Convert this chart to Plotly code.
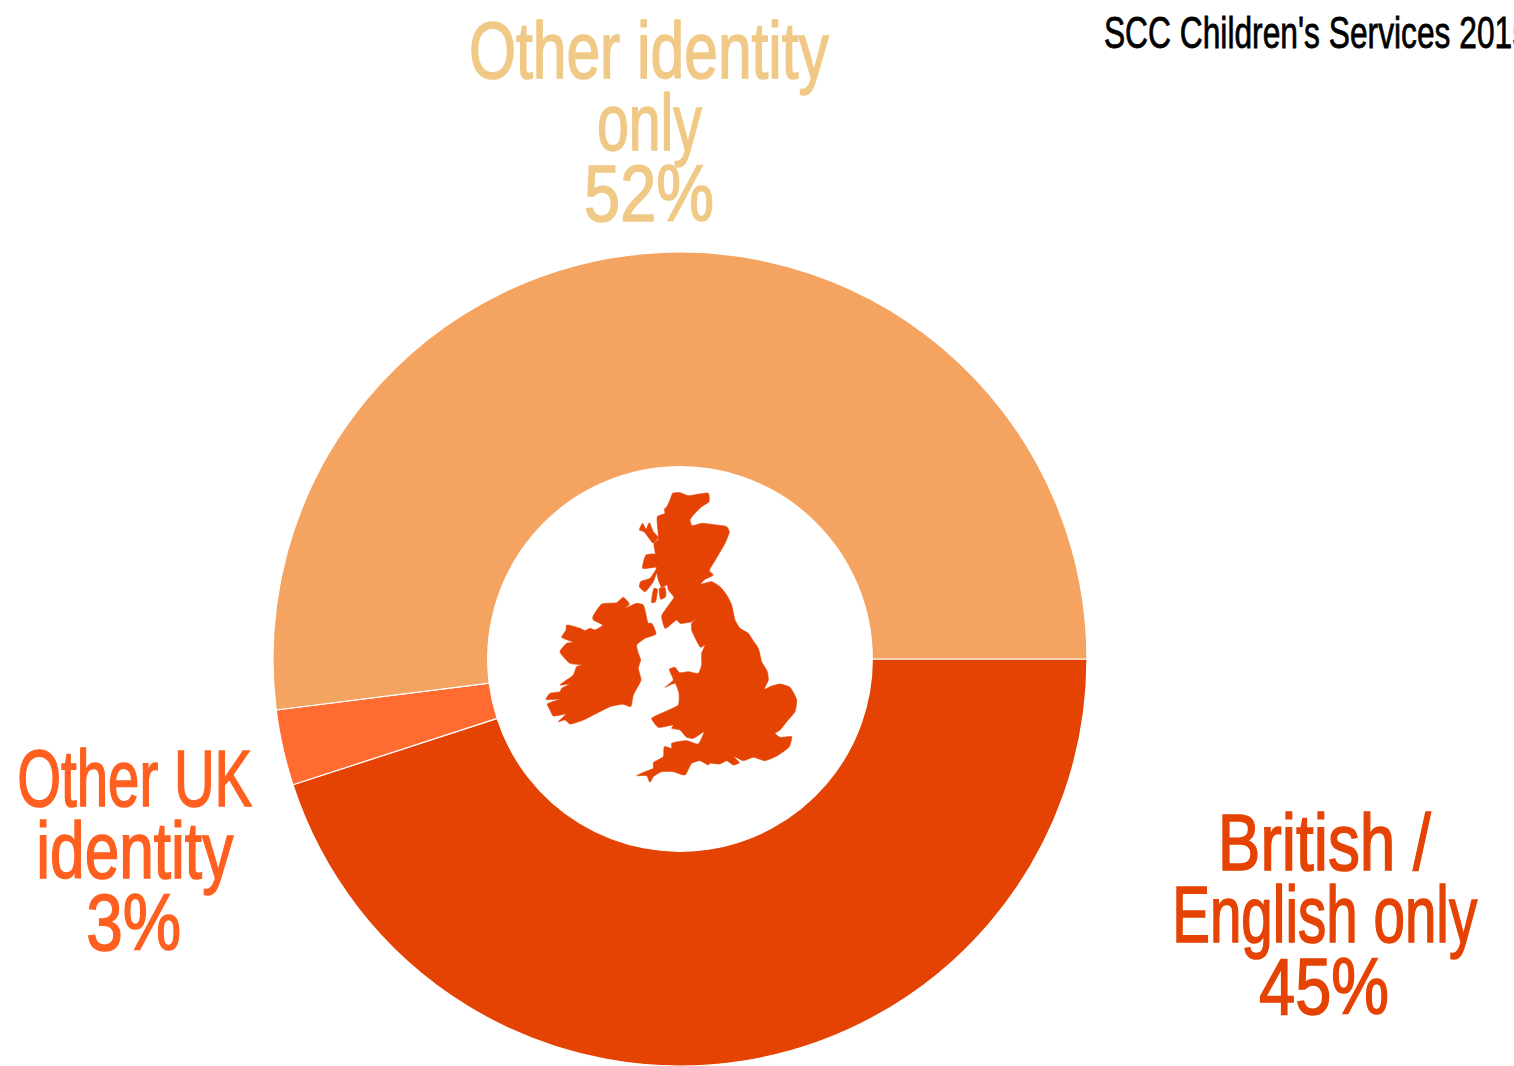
import json
import plotly.graph_objects as go

# Chart data
categories = ["British / English only", "Other UK identity", "Other identity only"]
percent_values = [45, 3, 52]
slice_colors = ["#E54304", "#FF6B30", "#F4A460"]
label_colors = ["#E54304", "#FF5F1F", "#F0C987"]
label_lines = [["British /", "English only", "45%"], ["Other UK", "identity", "3%"], ["Other identity", "only", "52%"]]
label_centres = [(1324, [842, 914, 986]), (134, [778, 850, 922]), (649, [50, 122, 193])]
label_widths = [[213, 305, 130], [235, 197, 95], [360, 105, 130]]
chart_note = "SCC Children's Services 2015"
note_width = 426
FONT = "'Liberation Sans', sans-serif"

# Decorative map icon outlines, traced in (page px) from zoomed crops: (origin, points *3)
gb_north = (630, 480, [(128,40),(150,38),(175,47),(235,40),(237,65),(215,80),(190,105),(180,120),(186,137),(215,130),(260,135),(290,140),(298,155),(285,190),(265,225),(250,250),(238,272),(250,285),(225,298),(212,312),(245,305),(270,320),(290,345),(305,375),(315,420),(330,445),(355,460),(368,480)])
gb_south = (630, 630, [(385,55),(395,95),(412,125),(415,150),(403,178),(420,170),(450,162),(480,172),(500,210),(495,245),(470,275),(450,300),(435,310),(450,322),(485,320),(478,350),(440,378),(405,392),(370,382),(340,392),(310,378),(328,398),(310,405),(290,392),(270,402),(240,400),(235,405),(210,392),(185,400),(165,435),(130,425),(95,425),(70,440),(60,457),(50,437),(20,437),(45,425),(70,415),(70,398),(100,380),(103,350),(125,355),(125,340),(170,332),(205,342),(222,305),(190,325),(170,322),(150,300),(125,295),(130,285),(85,292),(65,265),(105,245),(145,225),(147,190),(135,160),(105,172),(130,150),(118,118),(135,112),(148,128),(175,125),(205,130),(215,105),(215,70),(225,45),(212,52),(185,0)])
gb_west = (630, 480, [(185,430),(205,410),(185,425),(150,430),(140,420),(115,440),(105,445),(95,408),(120,370),(132,352),(115,330),(112,315),(95,322),(85,300),(80,280),(70,305),(45,335),(28,320),(32,305),(60,295),(80,262),(38,265),(48,225),(75,222),(95,235),(85,245),(85,255),(72,192),(85,178),(82,110),(105,100),(103,88),(112,78),(122,55)])
skye = (630, 480, [(28,150),(38,130),(48,148),(58,128),(70,155),(85,172),(70,190),(50,165),(42,155)])
islay = (630, 480, [(65,368),(72,325),(82,328),(76,366)])
jura = (630, 480, [(88,325),(105,323),(107,350),(92,358)])
ire_south = (530, 610, [(365,40),(378,72),(345,85),(320,105),(325,130),(332,150),(325,175),(333,210),(310,255),(302,290),(280,283),(240,290),(200,310),(160,330),(120,342),(105,330),(85,335),(108,312),(70,318),(60,300),(52,282),(90,268),(48,268),(60,250),(90,245),(95,235),(120,222),(90,225),(130,195),(140,170),(155,165),(120,160),(90,125),(110,100),(130,97),(95,82),(108,60),(110,45),(150,55),(165,62),(180,55),(195,60),(218,45),(190,30),(188,22)])
ire_north = (530, 480, [(215,372),(260,368),(280,352),(298,372),(285,385),(320,370),(340,375),(355,430)])

def conv(*parts):
    xs, ys = [], []
    for ox, oy, pts in parts:
        for a, b in pts:
            xs.append(ox + a / 3)
            ys.append(oy + b / 3)
    return xs, ys

map_polys = [conv(gb_north, gb_south, gb_west), conv(skye), conv(islay), conv(jura), conv(ire_south, ire_north)]

W, H = 1514, 1066
cx, cy, R = 680, 659, 407
fig = go.Figure()
fig.add_trace(go.Pie(
    labels=categories, values=percent_values, sort=False, direction="clockwise", rotation=90,
    hole=192.3 / 407, textinfo="none", showlegend=False,
    marker=dict(colors=slice_colors, line=dict(color="white", width=1.2)),
    domain=dict(x=[(cx - R) / W, (cx + R) / W], y=[1 - (cy + R) / H, 1 - (cy - R) / H]),
))
for xs, ys in map_polys:
    fig.add_trace(go.Scatter(x=xs + xs[:1], y=ys + ys[:1], mode="lines", fill="toself",
                             fillcolor="#E54304",
                             line=dict(color="#E54304", width=0.6, shape="spline", smoothing=0.5),
                             showlegend=False, hoverinfo="skip"))

annotations = []
text_lengths = []
stroke_widths = []
for lines, (x, ys), col, widths in zip(label_lines, label_centres, label_colors, label_widths):
    for line, y, w in zip(lines, ys, widths):
        annotations.append(dict(x=x, y=y, xref="x", yref="y", text=line, showarrow=False,
                                xanchor="center", yanchor="middle",
                                font=dict(family=FONT, size=80, color=col)))
        text_lengths.append(w)
        stroke_widths.append(1.6)
annotations.append(dict(x=1104 + note_width / 2, y=32, xref="x", yref="y", text=chart_note, showarrow=False,
                        xanchor="center", yanchor="middle",
                        font=dict(family=FONT, size=45, color="black")))
text_lengths.append(note_width)
stroke_widths.append(0.8)

fig.update_layout(
    width=W, height=H, margin=dict(l=0, r=0, t=0, b=0), paper_bgcolor="white", plot_bgcolor="white",
    xaxis=dict(range=[0, W], visible=False, fixedrange=True),
    yaxis=dict(range=[H, 0], visible=False, fixedrange=True),
    annotations=annotations, showlegend=False,
)
post = """
document.body.style.margin='0';document.body.style.overflow='hidden';
var L=%s, S=%s;
var squeeze=function(){
  var ts=document.querySelectorAll('.annotation-text');
  ts.forEach(function(t,i){
    t.setAttribute('textLength',L[i]);
    t.setAttribute('lengthAdjust','spacingAndGlyphs');
    t.style.stroke=t.style.fill;
    t.style.strokeWidth=S[i]+'px';
  });
};
squeeze();setTimeout(squeeze,50);
""" % (json.dumps(text_lengths), json.dumps(stroke_widths))
fig.write_html("out.html", config={"displayModeBar": False}, post_script=post)
